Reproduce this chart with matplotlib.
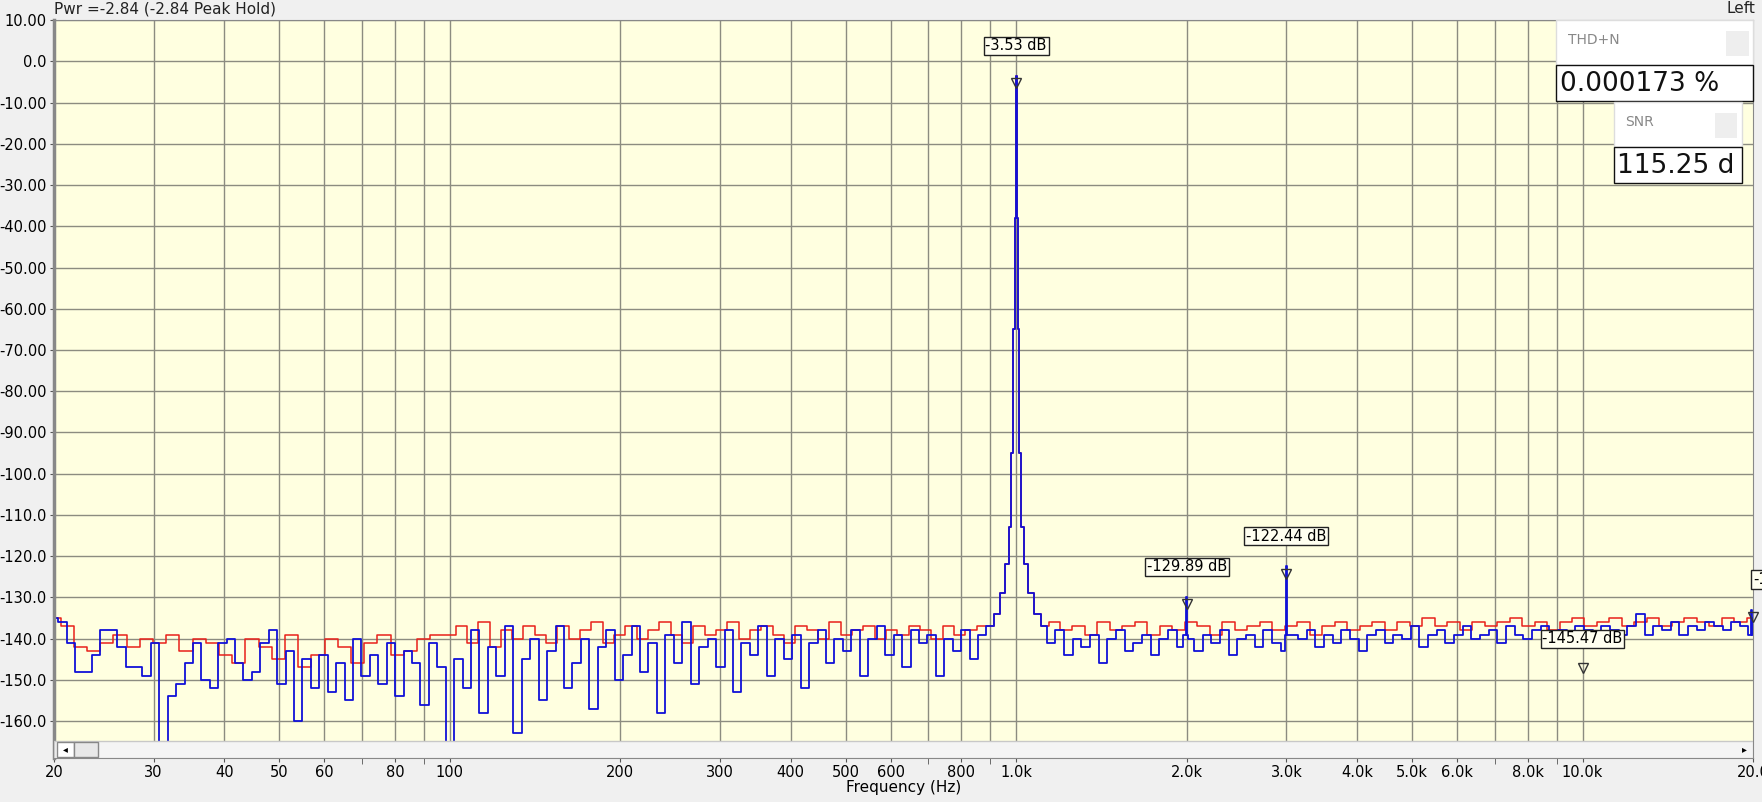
import numpy as np
import matplotlib
matplotlib.use("Agg")
import matplotlib.pyplot as plt
from matplotlib.patches import Rectangle

# ---------------- data ----------------
blue_lo = [-135,-136,-141,-148,-148,-144,-138,-138,-142,-147,-147,-149,-141,-165,-154,-151,-146,-141,-150,-152,-141,-140,-146,-150,-148,-141,-138,-151,-143,-160,-145,-152,-144,-153,-146,-155,-140,-149,-144,-151,-141,-154,-143,-146,-156,-141,-147]
blue_mid = [-165,-145,-152,-138,-158,-142,-149,-137,-163,-145,-140,-155,-143,-137,-152,-146,-140,-157,-142,-138,-150,-144,-137,-148,-141,-158,-139,-146,-136,-151,-142,-140,-147,-138,-153,-141,-144,-137,-149,-140,-145,-139,-152,-141,-138,-146,-140,-143,-138,-149,-140,-137,-144,-139,-147,-138,-141,-139,-149,-140,-143,-138,-145,-139,-142,-139,-138]
blue_hi = [-140,-143,-139,-145,-141,-138,-144,-140,-142,-139,-146,-140,-138,-143,-141,-139,-144,-140,-138,-142,-140,-143,-139,-141,-138,-144,-140,-139,-142,-138,-141,-143,-139,-140,-138,-142,-139,-141,-138,-140,-143,-139,-138,-141,-139,-140,-137,-142,-139,-138,-141,-139,-137,-140,-139,-138,-141,-137,-139,-140,-138,-137,-140,-138,-139,-137,-138,-140,-137,-138,-139,-137,-134,-139,-137,-138,-136,-139,-137,-138,-136,-137,-138,-136,-137,-135]
red_lo = [-135,-137,-142,-143,-141,-139,-142,-140,-141,-139,-143,-140,-141,-144,-146,-140,-142,-145,-139,-147,-144,-140,-142,-146,-141,-139,-144,-143,-140,-139]
red_mid = [-139,-137,-141,-136,-142,-138,-140,-137,-139,-141,-137,-140,-138,-136,-141,-139,-137,-140,-138,-136,-139,-141,-137,-139,-138,-136,-140,-138,-137,-139,-141,-137,-138,-140,-136,-139,-138,-137,-140,-138,-139,-137,-138,-140,-137,-139,-138,-137,-139,-137]
red_hi = [-138,-137,-139,-136,-138,-137,-139,-136,-138,-137,-136,-139,-137,-138,-136,-137,-139,-136,-138,-137,-136,-138,-137,-136,-139,-137,-136,-138,-137,-136,-138,-136,-137,-135,-137,-136,-138,-136,-137,-136,-135,-137,-136,-138,-136,-135,-137,-136,-135,-137,-136,-135,-137,-136,-135,-136,-137,-135,-136,-135]
peak_f = [900, 925, 950, 965, 975, 985, 992, 997, 1000, 1003, 1008, 1015, 1025, 1040, 1060, 1090, 1120]
peak_db = [-137, -134, -129, -122, -113, -95, -65, -38, -3.53, -38, -65, -95, -113, -122, -129, -134, -137]
spike_f = [2000, 3000, 19900]
spike_db = [-129.89, -122.44, -133.0]

markers = [(1000, -3.53, "-3.53 dB"), (2000, -129.89, "-129.89 dB"),
           (3000, -122.44, "-122.44 dB"), (20000, -133.0, "-133.0"),
           (10000, -145.4, "-145.47 dB")]

xt = [20,30,40,50,60,80,100,200,300,400,500,600,800,1000,2000,3000,4000,5000,6000,8000,10000,20000]
xtl = ["20","30","40","50","60","80","100","200","300","400","500","600","800","1.0k","2.0k","3.0k","4.0k","5.0k","6.0k","8.0k","10.0k","20.0"]
yt = [10,0,-10,-20,-30,-40,-50,-60,-70,-80,-90,-100,-110,-120,-130,-140,-150,-160]
ytl = ["10.00","0.0","-10.00","-20.00","-30.00","-40.00","-50.00","-60.00","-70.00","-80.00","-90.00",
       "-100.0","-110.0","-120.0","-130.0","-140.0","-150.0","-160.0"]

def build(lo, mid, hi, with_spikes):
    f = np.concatenate([np.geomspace(20, 100, len(lo), endpoint=False),
                        np.geomspace(100, 1000, len(mid), endpoint=False),
                        np.geomspace(1000, 20000, len(hi))])
    d = np.array(lo + mid + hi, float)
    keep = (f < peak_f[0]) | (f > peak_f[-1])
    f, d = f[keep], d[keep]
    f = np.concatenate([f, peak_f]); d = np.concatenate([d, peak_db])
    if with_spikes:
        for sf, sd in zip(spike_f, spike_db):
            f = np.concatenate([f, [sf*0.997, sf, sf*1.003]])
            d = np.concatenate([d, [-139, sd, -139]])
    o = np.argsort(f)
    return f[o], d[o]

bf, bd = build(blue_lo, blue_mid, blue_hi, True)
rf, rd = build(red_lo, red_mid, red_hi, False)

# ---------------- figure ----------------
W, H = 1568, 714
fig = plt.figure(figsize=(17.62, 8.02), dpi=100)
fig.patch.set_facecolor("#f0f0f0")
ax = fig.add_axes([48/W, 1-675/H, (1560-48)/W, (675-18)/H])
ax.set_facecolor("#ffffe0")
ax.set_xscale("log")
ax.set_xlim(20, 20000)
ax.set_ylim(-169, 10)

ax.plot(rf, rd, color="#e8201a", lw=1.1, drawstyle="steps-mid")
ax.plot(bf, bd, color="#1010d8", lw=1.3, drawstyle="steps-mid")

grid_x = [20,30,40,50,60,70,80,90,100,200,300,400,500,600,700,800,900,1000,
          2000,3000,4000,5000,6000,7000,8000,9000,10000]
for g in grid_x:
    ax.axvline(g, color="#8c8c80", lw=1, zorder=0.5)
for g in yt:
    ax.axhline(g, color="#8c8c80", lw=1, zorder=0.5)

ax.set_xticks(xt); ax.set_xticklabels(xtl)
ax.set_xticks([70, 90, 700, 900, 7000, 9000], minor=True)
ax.set_yticks(yt); ax.set_yticklabels(ytl)
ax.tick_params(axis="both", labelsize=10.5, color="#555555", length=3, pad=2)
ax.tick_params(axis="x", which="minor", length=4, color="#555555")
ax.set_xlabel("Frequency (Hz)", fontsize=11, labelpad=0)
for s in ax.spines.values():
    s.set_color("#888888")
ax.spines["left"].set_linewidth(2.5)

# scroll bar
ax.add_patch(Rectangle((0, 0), 1, 15/657, transform=ax.transAxes, facecolor="#f4f4f4",
                       edgecolor="#c8c8c8", zorder=5))
ax.add_patch(Rectangle((0.002, 0.002), 0.010, 13/657, transform=ax.transAxes, facecolor="#ffffff",
                       edgecolor="#888888", zorder=6))
ax.add_patch(Rectangle((0.012, 0.002), 0.014, 13/657, transform=ax.transAxes, facecolor="#e8e8e8",
                       edgecolor="#888888", zorder=6))
ax.text(0.007, 8/657, "◂", transform=ax.transAxes, ha="center", va="center", fontsize=7, zorder=7)
ax.text(0.995, 8/657, "▸", transform=ax.transAxes, ha="center", va="center", fontsize=7, zorder=7)

# markers
for mf, md, lab in markers:
    ax.plot([mf], [md - 1.8], marker="v", ms=7, mfc="none", mec="#333333", zorder=8, clip_on=False)
    ty = md + 5.5 if md > -140 else md + 3.5
    ax.text(mf, ty, lab, ha="center" if mf < 15000 else "left", va="bottom", fontsize=10.5, zorder=9,
            bbox=dict(boxstyle="square,pad=0.12", fc="#fffff0", ec="#222222", lw=1))

# titles
fig.text(48/W, 1-1/H, "Pwr =-2.84 (-2.84 Peak Hold)", fontsize=11, ha="left", va="top", color="#222222")
fig.text(1562/W, 1-1/H, "Left", fontsize=11, ha="right", va="top", color="#222222")

# readout boxes
def readout(x0, y0, w, title, val):
    fig.patches.append(Rectangle((x0/W, 1-(y0+40)/H), w/W, 40/H, transform=fig.transFigure,
                                 fc="white", ec="#dddddd", zorder=10))
    fig.patches.append(Rectangle(((x0+w-24)/W, 1-(y0+32)/H), 20/W, 22/H, transform=fig.transFigure,
                                 fc="#eeeeee", ec="none", zorder=11))
    fig.text((x0+10)/W, 1-(y0+18)/H, title, fontsize=10, color="#888888", va="center", zorder=12)
    fig.patches.append(Rectangle((x0/W, 1-(y0+72)/H), w/W, 32/H, transform=fig.transFigure,
                                 fc="white", ec="#111111", lw=1, zorder=10))
    fig.text((x0+3)/W, 1-(y0+57)/H, val, fontsize=19, color="#111111", va="center", zorder=12)

readout(1385, 18, 175, "THD+N", "0.000173 %")
readout(1436, 91, 114, "SNR", "115.25 d")

fig.savefig("out.png", dpi=100, facecolor=fig.get_facecolor())
